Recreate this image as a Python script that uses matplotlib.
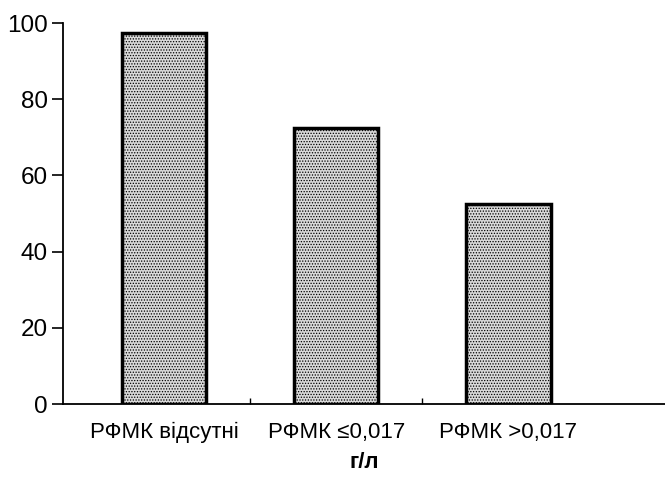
import numpy as np
import matplotlib.pyplot as plt

categories = ["РФМК відсутні", "РФМК ≤0,017", "РФМК >0,017"]
values = [97.5, 72.5, 52.5]
yticks = [0, 20, 40, 60, 80, 100]

plt.rcParams['font.family'] = ['Liberation Sans', 'DejaVu Sans']
plt.rcParams['hatch.color'] = '#8a8a8a'
plt.rcParams['hatch.linewidth'] = 0.6

fig = plt.figure(figsize=(6.65, 4.8), dpi=100)
ax = fig.add_axes([0.095, 0.158, 0.905, 0.794])

x = np.arange(len(categories))
ax.bar(x, values, width=0.49, facecolor='#d9d9d9', edgecolor='black',
       linewidth=2.5, hatch='......')

ax.set_xlim(-0.587, 2.91)
ax.set_ylim(0, 100)
ax.spines['right'].set_color("none")
ax.spines['top'].set_color("none")
ax.spines['left'].set_linewidth(1.3)
ax.spines['bottom'].set_linewidth(1.3)

ax.set_yticks(yticks)
ax.tick_params(axis='y', direction='out', length=8, width=1.2, labelsize=17.5, pad=3)

# major ticks between categories, labels at category centres
ax.set_xticks([0.5, 1.5])
ax.set_xticklabels([])
ax.set_xticks(x, minor=True)
ax.set_xticklabels(categories, minor=True)
ax.tick_params(axis='x', which='major', direction='in', length=4, width=1)
ax.tick_params(axis='x', which='minor', length=0, labelsize=16, pad=13)

ax.set_xlabel("г/л", fontsize=16, fontweight='bold', labelpad=6)

fig.savefig("out.png", dpi=100)
